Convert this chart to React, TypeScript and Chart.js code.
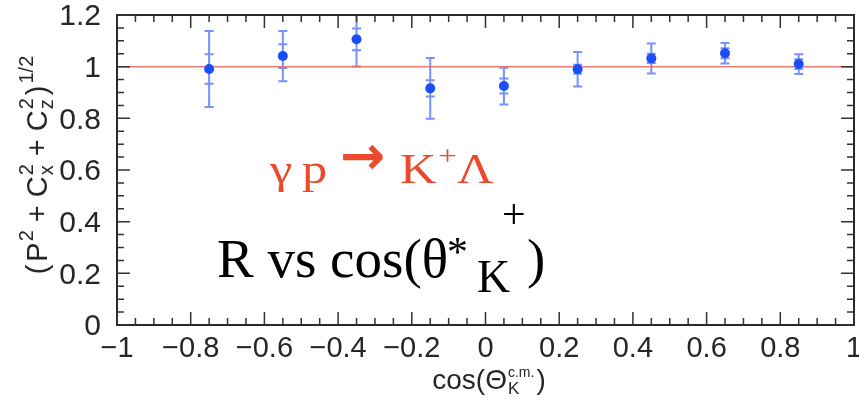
import { useEffect, useRef } from "react";
import { Chart, registerables } from "chart.js";

Chart.register(...registerables);

// Measured ratio R = sqrt(P^2 + Cx^2 + Cz^2) per kaon angle bin
const cosTheta = [-0.75, -0.55, -0.35, -0.15, 0.05, 0.25, 0.45, 0.65, 0.85];
const ratioR = [0.991, 1.041, 1.106, 0.916, 0.925, 0.99, 1.032, 1.052, 1.01];
const statErr = [0.057, 0.046, 0.042, 0.031, 0.029, 0.017, 0.018, 0.019, 0.019];
const totalErr = [0.147, 0.097, 0.105, 0.118, 0.071, 0.067, 0.058, 0.04, 0.038];
const unityLevel = 1;

const xTickValues = [-1, -0.8, -0.6, -0.4, -0.2, 0, 0.2, 0.4, 0.6, 0.8, 1];
const xTickLabels = ["−1", "−0.8", "−0.6", "−0.4", "−0.2", "0", "0.2", "0.4", "0.6", "0.8", "1"];
const yTickValues = [0, 0.2, 0.4, 0.6, 0.8, 1, 1.2];
const yTickLabels = ["0", "0.2", "0.4", "0.6", "0.8", "1", "1.2"];

const X_MIN = -1;
const X_MAX = 1;
const Y_MIN = 0;
const Y_MAX = 1.2;
const MINOR_STEP = 0.05;

const SANS = '"Liberation Sans", Arial, sans-serif';
const SERIF = '"Liberation Serif", "Times New Roman", serif';
const INK = "#262626";
const POINT_BLUE = "rgb(28,78,245)";
const BAR_BLUE = "rgba(60,100,250,0.7)";
const UNITY_RED = "rgba(240,110,100,0.9)";
const REACTION_RED = "#eb4a2c";

type Piece = { t: string; size: number; dy?: number; pad?: number; stack?: boolean; family?: string; weight?: string };

function layoutPieces(ctx: CanvasRenderingContext2D, pieces: Piece[], family: string) {
  const items: (Piece & { x: number })[] = [];
  let cursor = 0;
  let lastStart = 0;
  let lastW = 0;
  for (const p of pieces) {
    ctx.font = `${p.weight ?? ""} ${p.size}px ${p.family ?? family}`;
    const w = ctx.measureText(p.t).width;
    if (p.stack) {
      items.push({ ...p, x: lastStart });
      lastW = Math.max(lastW, w);
      cursor = lastStart + lastW + (p.pad ?? 0);
    } else {
      lastStart = cursor;
      lastW = w;
      items.push({ ...p, x: cursor });
      cursor += w + (p.pad ?? 0);
    }
  }
  return { items, width: cursor };
}

function drawPieces(ctx: CanvasRenderingContext2D, pieces: Piece[], family: string, x: number, y: number, align: "left" | "center") {
  const { items, width } = layoutPieces(ctx, pieces, family);
  const x0 = align === "center" ? x - width / 2 : x;
  ctx.textAlign = "left";
  ctx.textBaseline = "alphabetic";
  for (const it of items) {
    ctx.font = `${it.weight ?? ""} ${it.size}px ${it.family ?? family}`;
    ctx.fillText(it.t, x0 + it.x, y + (it.dy ?? 0));
  }
}

// text drawn with a horizontal stretch
function wideText(ctx: CanvasRenderingContext2D, t: string, x: number, y: number, sx: number) {
  ctx.save();
  ctx.translate(x, y);
  ctx.scale(sx, 1);
  ctx.fillText(t, 0, 0);
  ctx.restore();
}

const decorPlugin = {
  id: "rootFrame",
  beforeDatasetsDraw(chart: any) {
    const { ctx, chartArea: a, scales } = chart;
    const xs = scales.x;
    const ys = scales.y;
    ctx.save();
    ctx.beginPath();
    ctx.rect(a.left, a.top, a.right - a.left, a.bottom - a.top);
    ctx.clip();
    ctx.strokeStyle = BAR_BLUE;
    ctx.lineWidth = 2;
    const cap = 4.5;
    cosTheta.forEach((c, i) => {
      const px = xs.getPixelForValue(c);
      const yTop = ys.getPixelForValue(ratioR[i] + totalErr[i]);
      const yBot = ys.getPixelForValue(ratioR[i] - totalErr[i]);
      const sTop = ys.getPixelForValue(ratioR[i] + statErr[i]);
      const sBot = ys.getPixelForValue(ratioR[i] - statErr[i]);
      ctx.beginPath();
      ctx.moveTo(px, yTop);
      ctx.lineTo(px, yBot);
      for (const yy of [yTop, yBot, sTop, sBot]) {
        ctx.moveTo(px - cap, yy);
        ctx.lineTo(px + cap, yy);
      }
      ctx.stroke();
    });
    ctx.restore();
  },
  afterDraw(chart: any) {
    const { ctx, chartArea: a, scales } = chart;
    const xs = scales.x;
    const ys = scales.y;
    ctx.save();

    // frame
    ctx.strokeStyle = "#2a2a2a";
    ctx.lineWidth = 2;
    ctx.strokeRect(a.left, a.top, a.right - a.left, a.bottom - a.top);

    // inward ticks on all four sides
    ctx.lineWidth = 1.5;
    ctx.strokeStyle = "#333";
    ctx.beginPath();
    const nx = Math.round((X_MAX - X_MIN) / MINOR_STEP);
    for (let i = 0; i <= nx; i++) {
      const px = xs.getPixelForValue(X_MIN + i * MINOR_STEP);
      const len = i % 4 === 0 ? 13 : 7;
      ctx.moveTo(px, a.bottom);
      ctx.lineTo(px, a.bottom - len);
      ctx.moveTo(px, a.top);
      ctx.lineTo(px, a.top + len);
    }
    const ny = Math.round((Y_MAX - Y_MIN) / MINOR_STEP);
    for (let i = 0; i <= ny; i++) {
      const py = ys.getPixelForValue(Y_MIN + i * MINOR_STEP);
      const len = i % 4 === 0 ? 13 : 7;
      ctx.moveTo(a.left, py);
      ctx.lineTo(a.left + len, py);
      ctx.moveTo(a.right, py);
      ctx.lineTo(a.right - len, py);
    }
    ctx.stroke();

    // tick labels
    ctx.fillStyle = INK;
    ctx.font = `29px ${SANS}`;
    ctx.textAlign = "center";
    ctx.textBaseline = "alphabetic";
    xTickValues.forEach((v, i) => {
      ctx.fillText(xTickLabels[i], xs.getPixelForValue(v), 357);
    });
    ctx.font = `30px ${SANS}`;
    ctx.textAlign = "right";
    ctx.textBaseline = "middle";
    yTickValues.forEach((v, i) => {
      ctx.fillText(yTickLabels[i], 101, ys.getPixelForValue(v) + 2);
    });

    // x title
    drawPieces(
      ctx,
      [
        { t: "cos(", size: 28 },
        { t: "Θ", size: 28, pad: 1 },
        { t: "K", size: 17, dy: 5 },
        { t: "c.m.", size: 14, dy: -12, stack: true, pad: 2 },
        { t: ")", size: 28 },
      ],
      SANS,
      489,
      389,
      "center"
    );

    // y title, rotated
    ctx.save();
    ctx.translate(47, 165);
    ctx.rotate(-Math.PI / 2);
    drawPieces(
      ctx,
      [
        { t: "(", size: 29, pad: 3 },
        { t: "P", size: 29, pad: 1 },
        { t: "2", size: 20, dy: -14, pad: 8 },
        { t: "+", size: 29, pad: 8 },
        { t: "C", size: 29, pad: 1 },
        { t: "x", size: 20, dy: 6 },
        { t: "2", size: 20, dy: -14, stack: true, pad: 8 },
        { t: "+", size: 29, pad: 8 },
        { t: "C", size: 29, pad: 1 },
        { t: "z", size: 20, dy: 6 },
        { t: "2", size: 20, dy: -14, stack: true, pad: 3 },
        { t: ")", size: 29, pad: 2 },
        { t: "1/2", size: 20, dy: -14 },
      ],
      SANS,
      0,
      0,
      "center"
    );
    ctx.restore();

    // reaction label
    ctx.fillStyle = REACTION_RED;
    ctx.textAlign = "left";
    ctx.textBaseline = "alphabetic";
    ctx.font = `42px ${SERIF}`;
    wideText(ctx, "γ", 270, 183, 1.2);
    wideText(ctx, "p", 302, 183, 1.2);
    wideText(ctx, "K", 400, 183, 1.2);
    wideText(ctx, "Λ", 457, 183, 1.2);
    ctx.font = `28px ${SERIF}`;
    wideText(ctx, "+", 438, 165, 1.2);
    ctx.font = `bold 54px "DejaVu Sans", sans-serif`;
    ctx.textBaseline = "middle";
    ctx.fillText("→", 340, 160);

    // observable label
    ctx.fillStyle = "#000";
    ctx.textBaseline = "alphabetic";
    ctx.font = `55px ${SERIF}`;
    const head = "R vs cos(θ";
    ctx.fillText(head, 217, 277);
    const headEnd = 217 + ctx.measureText(head).width;
    ctx.fillText(")", 527, 277);
    ctx.font = `42px ${SERIF}`;
    ctx.fillText("*", headEnd - 1, 266);
    ctx.fillText("+", 502, 228);
    ctx.font = `46px ${SERIF}`;
    ctx.fillText("K", 477, 292);

    ctx.restore();
  },
};

export default function App() {
  const canvasRef = useRef<HTMLCanvasElement | null>(null);

  useEffect(() => {
    if (!canvasRef.current) return;
    const chart = new Chart(canvasRef.current, {
      type: "scatter",
      data: {
        datasets: [
          {
            label: "R",
            data: cosTheta.map((c, i) => ({ x: c, y: ratioR[i] })),
            pointRadius: 5,
            pointBackgroundColor: POINT_BLUE,
            pointBorderColor: POINT_BLUE,
            pointBorderWidth: 0,
            order: 1,
          },
          {
            label: "unity",
            type: "line",
            data: [
              { x: X_MIN, y: unityLevel },
              { x: X_MAX, y: unityLevel },
            ],
            borderColor: UNITY_RED,
            borderWidth: 1.5,
            pointRadius: 0,
            order: 2,
          },
        ],
      },
      options: {
        animation: false,
        responsive: false,
        devicePixelRatio: 1,
        layout: { padding: { left: 117, top: 15, right: 2, bottom: 76 } },
        scales: {
          x: { type: "linear", min: X_MIN, max: X_MAX, display: false },
          y: { type: "linear", min: Y_MIN, max: Y_MAX, display: false },
        },
        plugins: { legend: { display: false }, tooltip: { enabled: false } },
      },
      plugins: [decorPlugin],
    });
    return () => chart.destroy();
  }, []);

  return (
    <div style={{ position: "absolute", left: 0, top: 0, width: 859, height: 401, background: "#fff" }}>
      <canvas ref={canvasRef} width={859} height={401} style={{ display: "block" }} />
    </div>
  );
}
